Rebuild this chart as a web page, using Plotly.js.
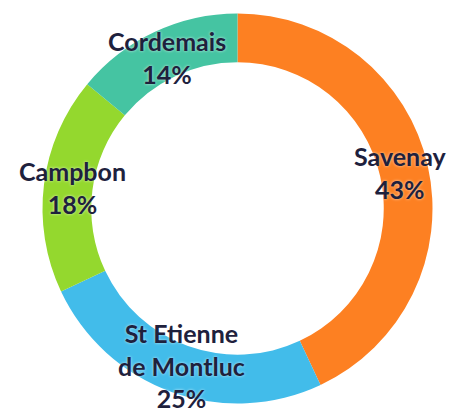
<!DOCTYPE html>
<html>
<head>
<meta charset="utf-8">
<script src="https://cdn.plot.ly/plotly-3.0.1.min.js"></script>
<style>html,body{margin:0;padding:0;background:#fff;}#chart{width:453px;height:414px;}</style>
</head>
<body>
<div id="chart"></div>
<script>
const labels = ["Savenay", "St Etienne<br>de Montluc", "Campbon", "Cordemais"];
const values = [43, 25, 18, 14];
const colors = ["#FD8022", "#42BCEA", "#94D82E", "#45C4A2"];

const W = 453, H = 414;
const cx = 237.5, cy = 208.5, R = 195;
const labelRadius = 0.855;

const trace = {
  type: "pie",
  labels: labels,
  values: values,
  sort: false,
  direction: "clockwise",
  rotation: 0,
  hole: 0.75,
  marker: {colors: colors, line: {width: 0}},
  textinfo: "none",
  domain: {x: [(cx - R) / W, (cx + R) / W], y: [1 - (cy + R) / H, 1 - (cy - R) / H]},
  showlegend: false,
  hoverinfo: "none"
};

// Labels positioned at each slice's mid-angle (computed from the values)
const total = values.reduce((a, b) => a + b, 0);
let cum = 0;
const annotations = values.map((v, i) => {
  const mid = (cum + v / 2) / total * 2 * Math.PI;
  cum += v;
  const px = cx + R * labelRadius * Math.sin(mid);
  const py = cy - R * labelRadius * Math.cos(mid);
  return {
    xref: "paper", yref: "paper",
    x: px / W, y: 1 - py / H,
    xanchor: "center", yanchor: "middle",
    showarrow: false,
    align: "center",
    text: labels[i] + "<br>" + Math.round(v / total * 100) + "%",
    font: {family: "Lato, 'Open Sans', sans-serif", size: 25, weight: 700, color: "#1E213D", shadow: "0px 0px 3px rgba(255,255,255,0.7)"}
  };
});

const layout = {
  width: W, height: H,
  margin: {l: 0, r: 0, t: 0, b: 0},
  paper_bgcolor: "#fff",
  showlegend: false,
  annotations: annotations
};

Plotly.newPlot("chart", [trace], layout, {displayModeBar: false, staticPlot: true});
</script>
</body>
</html>
